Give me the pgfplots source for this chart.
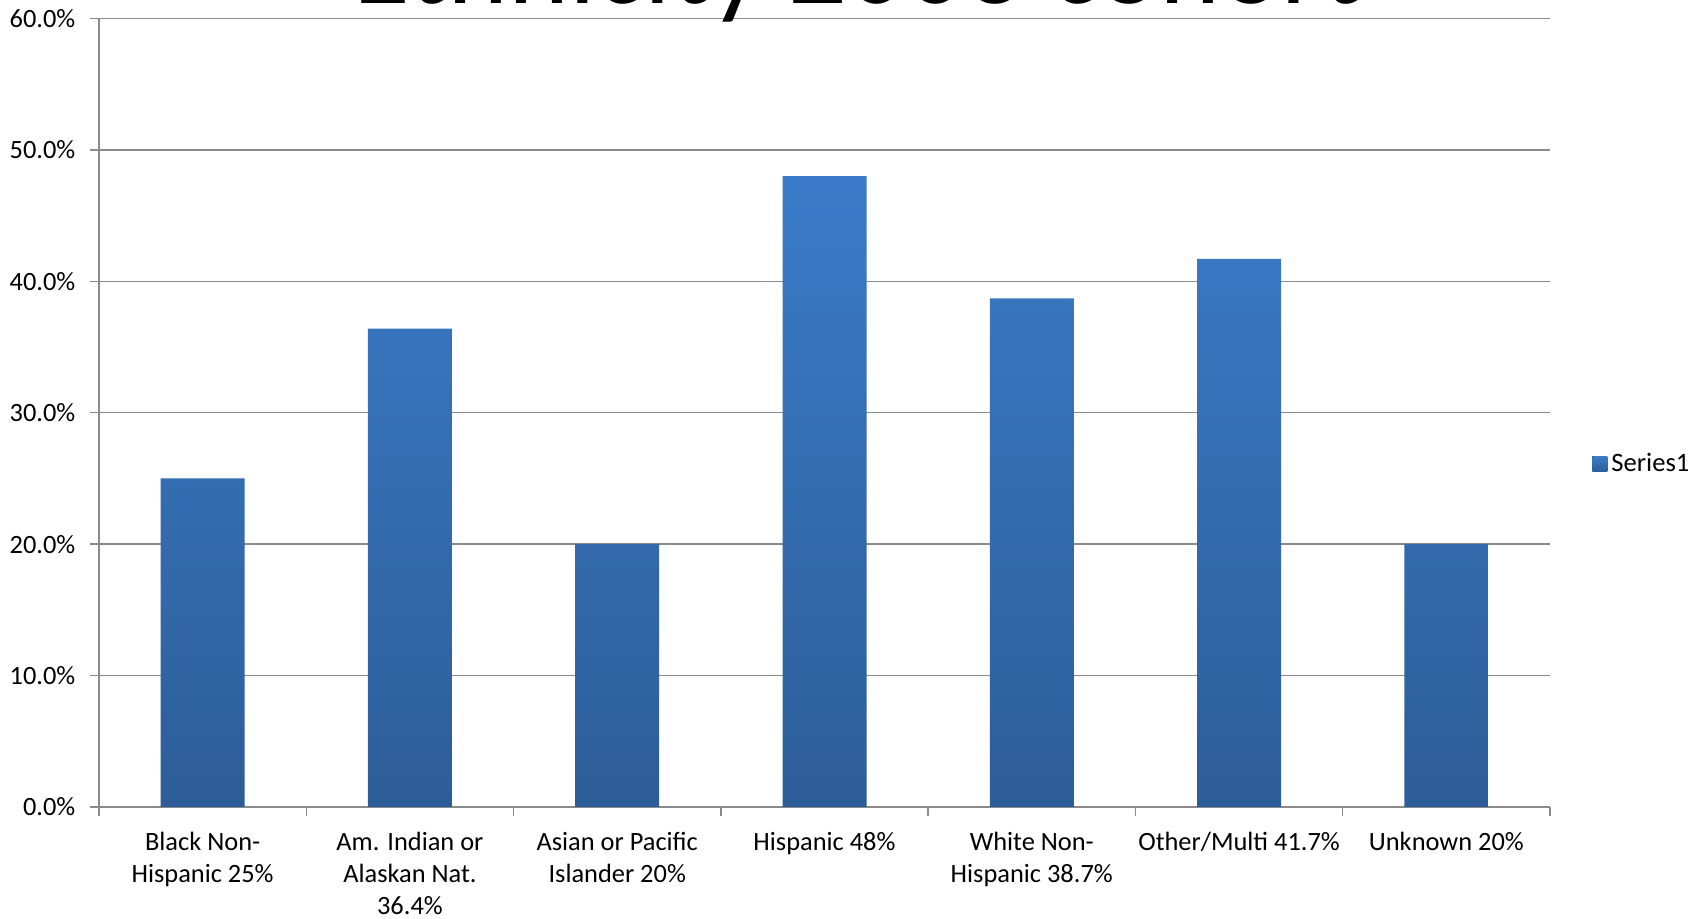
\documentclass[border=0pt]{standalone}
\usepackage{pgfplots}
\pgfplotsset{compat=1.18}
\usepackage{fontspec}
\setmainfont{Carlito}

\definecolor{bartop}{HTML}{3B7BC9}
\definecolor{barbottom}{HTML}{2D5D98}
\definecolor{gridgray}{HTML}{8A8A8A}

\begin{document}
\begin{tikzpicture}
% page frame: 852.5pt x 459.5pt
\useasboundingbox (0pt,0pt) rectangle (852.5pt,459.5pt);
\begin{axis}[
  at={(49.5pt,56pt)}, anchor=south west,
  scale only axis,
  width=725.5pt, height=394.25pt,
  xmin=-0.5, xmax=6.5,
  ymin=0, ymax=60,
  axis x line*=bottom,
  axis y line*=left,
  axis line style={draw=gridgray, line width=0.75pt},
  ytick={0,10,20,30,40,50,60},
  yticklabels={0.0\%,10.0\%,20.0\%,30.0\%,40.0\%,50.0\%,60.0\%},
  ymajorgrids,
  grid style={draw=gridgray, line width=0.75pt},
  xtick={0,1,2,3,4,5,6},
  xticklabels={
    {Black Non-\\Hispanic 25\%},
    {Am. Indian or\\Alaskan Nat.\\36.4\%},
    {Asian or Pacific\\Islander 20\%},
    {Hispanic 48\%},
    {White Non-\\Hispanic 38.7\%},
    {Other/Multi 41.7\%},
    {Unknown 20\%}},
  minor xtick={-0.5,0.5,...,6.5},
  tick align=outside,
  major tick length=4.3pt,
  minor tick length=4.3pt,
  x tick style={draw=none},
  minor x tick style={draw=gridgray, line width=0.75pt},
  y tick style={draw=gridgray, line width=0.75pt},
  every tick label/.append style={font=\fontsize{13.2}{16}\selectfont, text=black},
  xticklabel style={align=center, anchor=north, yshift=-5pt},
  yticklabel style={anchor=east, xshift=-4pt},
  legend style={at={(1.029,0.435)}, anchor=west, draw=none, fill=none,
    font=\fontsize{13.3}{16}\selectfont, inner sep=0pt,
    legend cell align=left},
  ybar, bar width=42pt,
]
\addplot[draw=none, top color=bartop, bottom color=barbottom,
  legend image code/.code={
    \fill[top color=bartop, bottom color=barbottom]
      (0pt,-3.75pt) rectangle (7.5pt,3.75pt);}]
  coordinates {(0,25) (1,36.4) (2,20) (3,48) (4,38.7) (5,41.7) (6,20)};
\addlegendentry{Series1}
\end{axis}
% chart title, running off the top edge of the page
\node[anchor=base, inner sep=0pt, font=\fontsize{58}{62}\selectfont]
  at (428.5pt,457.5pt) {Ethnicity 2003 cohort};
\end{tikzpicture}
\end{document}
